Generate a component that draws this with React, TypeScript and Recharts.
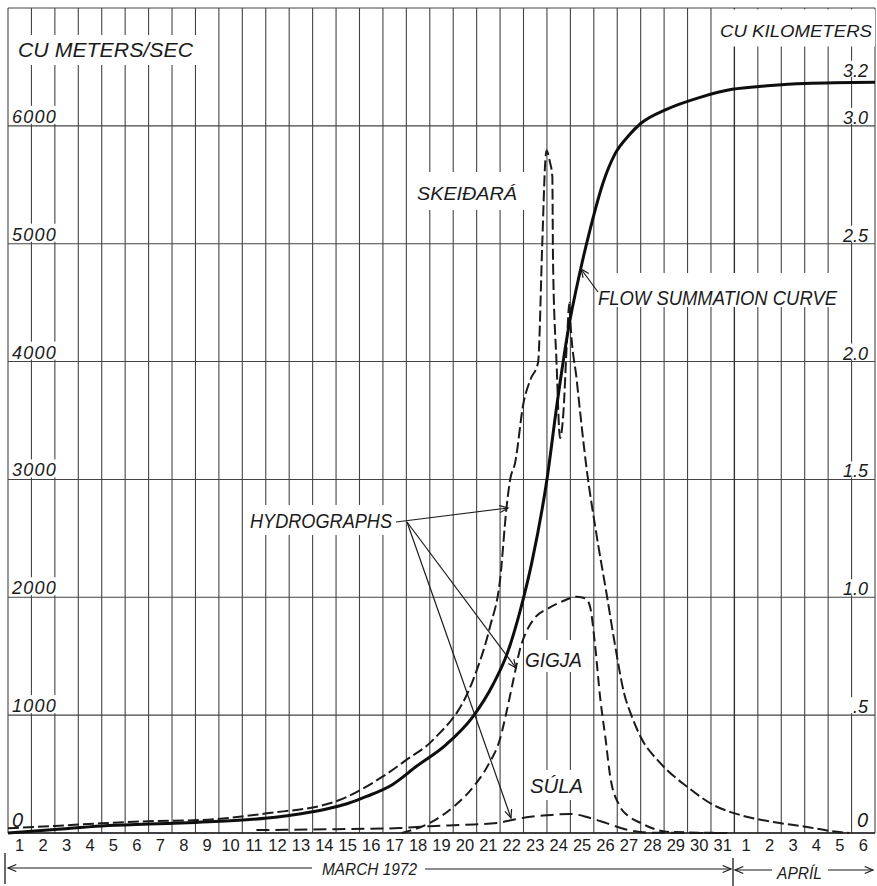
import React from 'react';
import { LineChart, Line, XAxis, YAxis, CartesianGrid, ReferenceLine } from 'recharts';

// Jokulhlaup March 1972 - hydrographs (m3/s) and flow summation (km3)
const dayLabels = [
  '1', '2', '3', '4', '5', '6', '7', '8', '9', '10', '11', '12', '13', '14', '15', '16',
  '17', '18', '19', '20', '21', '22', '23', '24', '25', '26', '27', '28', '29', '30', '31',
  '1', '2', '3', '4', '5', '6',
];
const gridDays = Array.from({ length: 38 }, (_, i) => i);
const flowTicks = [0, 1000, 2000, 3000, 4000, 5000, 6000, 7000];
const volumeTicks = [0, 0.5, 1, 1.5, 2, 2.5, 3, 3.2];

// elapsed days since start of 1 March
const sumDays = [0, 2, 4, 6, 8, 10, 11.5, 12.5, 13.5, 14.5, 15.3, 16.4, 17.46, 18.7, 19.85, 20.7, 21.3, 21.85, 22.36, 23.0, 23.43, 23.9, 24.41, 24.84, 25.4, 25.9, 26.5, 27.0, 28.1, 29.5, 30.9, 32.4, 34, 37];
const sumKm3 = [0, 0.015, 0.03, 0.038, 0.045, 0.055, 0.068, 0.082, 0.1, 0.125, 0.155, 0.205, 0.285, 0.375, 0.495, 0.63, 0.76, 0.94, 1.15, 1.5, 1.82, 2.13, 2.38, 2.56, 2.76, 2.88, 2.96, 3.01, 3.07, 3.12, 3.155, 3.17, 3.18, 3.185];

const skeidDays = [0, 2, 3.93, 6, 8.19, 11.05, 13.87, 16.0, 17.0, 18.14, 19.85, 20.57, 21.0, 21.28, 21.43, 21.64, 22.0, 22.3, 22.62, 22.8, 22.93, 22.98, 23.12, 23.23, 23.26, 23.41, 23.56, 23.7, 23.85, 23.96, 23.99, 24.27, 24.7, 25.1, 25.57, 25.9, 26.3, 26.6, 27.0, 27.83, 29.0, 30.1, 31.24, 32.65, 34.1, 35.0, 35.9];
const skeidQ = [40, 60, 82, 100, 110, 167, 260, 480, 620, 790, 1300, 1750, 2150, 2770, 3000, 3140, 3650, 3850, 3990, 5000, 5700, 5790, 5700, 5570, 4840, 3990, 3350, 3560, 4160, 4500, 4380, 3845, 3080, 2550, 2000, 1600, 1180, 1000, 815, 595, 390, 238, 153, 93, 51, 20, 0];

const gigjaDays = [16.8, 18.14, 19.0, 19.85, 20.5, 21.0, 21.3, 21.6, 21.85, 22.15, 22.5, 23.0, 23.6, 24.28, 24.65, 24.84, 25.05, 25.27, 25.5, 25.7, 26.1, 26.5, 27.0, 27.5, 28.1, 30.7];
const gigjaQ = [0, 100, 220, 390, 580, 800, 1050, 1330, 1560, 1720, 1830, 1900, 1960, 2005, 1990, 1920, 1600, 1150, 800, 480, 230, 140, 85, 40, 10, 0];

const sulaDays = [10.6, 14, 16.73, 18, 19.5, 20.87, 21.55, 22.3, 23.0, 24.0, 24.7, 25.2, 25.57, 26.12, 26.55, 27.3, 30.7];
const sulaQ = [25, 32, 42, 58, 70, 85, 112, 138, 150, 162, 136, 105, 82, 45, 22, 3, 0];

const toRows = (days: number[], vals: number[]) => days.map((t, i) => ({ t, v: vals[i] }));

const INK = '#1b1b1b';
const FONT = "'Liberation Sans', Arial, sans-serif";
const HALF_DAY = 867 / 37 / 2;

function LeftTick(props: any) {
  const { y, payload } = props;
  const v = payload.value;
  if (v === 7000) return null;
  const isZero = v === 0;
  return (
    <g>
      {!isZero && <rect x={10} y={y - 20} width={56} height={18} fill="#fff" />}
      <text x={12} y={isZero ? y - 6 : y - 3} fontSize={isZero ? 20 : 18} fontStyle="italic" fontFamily={FONT} fill={INK} letterSpacing={1.2}>
        {v}
      </text>
    </g>
  );
}

function RightTick(props: any) {
  const { y, payload } = props;
  const v = payload.value;
  const label = v === 0 ? '0' : v === 0.5 ? '.5' : v.toFixed(1);
  const isZero = v === 0;
  return (
    <g>
      {!isZero && <rect x={838} y={y - 18} width={34} height={16} fill="#fff" />}
      <text x={868} y={isZero ? y - 6 : y - 2} fontSize={isZero ? 20 : 18} fontStyle="italic" fontFamily={FONT} fill={INK} textAnchor="end">
        {label}
      </text>
    </g>
  );
}

function DayTick(props: any) {
  const { x, y, index } = props;
  const label = dayLabels[index];
  if (label === undefined) return null;
  return (
    <text x={x + HALF_DAY} y={y + 10} fontSize={16.5} fontFamily={FONT} fill={INK} textAnchor="middle">
      {label}
    </text>
  );
}

function Arrow({ x1, y1, x2, y2, w = 1.2 }: { x1: number; y1: number; x2: number; y2: number; w?: number }) {
  const a = Math.atan2(y2 - y1, x2 - x1);
  const len = 9;
  const spread = 0.4;
  const p1 = [x2 - len * Math.cos(a - spread), y2 - len * Math.sin(a - spread)];
  const p2 = [x2 - len * Math.cos(a + spread), y2 - len * Math.sin(a + spread)];
  return (
    <g stroke={INK} strokeWidth={w} fill="none">
      <line x1={x1} y1={y1} x2={x2} y2={y2} />
      <polyline points={`${p1[0]},${p1[1]} ${x2},${y2} ${p2[0]},${p2[1]}`} />
    </g>
  );
}

function Note({ x, y, w, size, text }: { x: number; y: number; w: number; size: number; text: string }) {
  return (
    <text x={x} y={y} fontSize={size} fontStyle="italic" fontFamily={FONT} fill={INK} textLength={w} lengthAdjust="spacingAndGlyphs">
      {text}
    </text>
  );
}

export default function App() {
  return (
    <div style={{ position: 'absolute', left: 0, top: 0, width: 877, height: 886, background: '#fff' }}>
      <LineChart width={877} height={886} margin={{ top: 8, right: 1, bottom: 33, left: 7 }}>
        <CartesianGrid xAxisId="grid" yAxisId="q" stroke="#444" strokeWidth={1.1} />
        <XAxis xAxisId="grid" dataKey="t" type="number" domain={[0, 37]} ticks={gridDays} interval={0} tick={(p: any) => <DayTick {...p} />} tickLine={false} axisLine={false} height={20} allowDataOverflow />
        <YAxis yAxisId="q" type="number" domain={[0, 7000]} ticks={flowTicks} interval={0} width={1} tick={(p: any) => <LeftTick {...p} />} tickLine={false} axisLine={false} />
        <YAxis yAxisId="km" orientation="right" type="number" domain={[0, 3.5]} ticks={volumeTicks} interval={0} width={1} tick={(p: any) => <RightTick {...p} />} tickLine={false} axisLine={false} />
        <ReferenceLine xAxisId="grid" yAxisId="q" y={0} stroke="#222" strokeWidth={1.6} />
        <ReferenceLine xAxisId="grid" yAxisId="q" x={31} stroke="#333" strokeWidth={1.3} />

        <Line xAxisId="grid" yAxisId="q" data={toRows(sulaDays, sulaQ)} dataKey="v" type="monotone" stroke={INK} strokeWidth={2} strokeDasharray="13 6" dot={false} isAnimationActive={false} />
        <Line xAxisId="grid" yAxisId="q" data={toRows(gigjaDays, gigjaQ)} dataKey="v" type="monotone" stroke={INK} strokeWidth={2} strokeDasharray="10 5" dot={false} isAnimationActive={false} />
        <Line xAxisId="grid" yAxisId="q" data={toRows(skeidDays, skeidQ)} dataKey="v" type="monotone" stroke={INK} strokeWidth={2} strokeDasharray="11 4" dot={false} isAnimationActive={false} />
        <Line xAxisId="grid" yAxisId="km" data={toRows(sumDays, sumKm3)} dataKey="v" type="monotone" stroke="#0e0e0e" strokeWidth={3} dot={false} isAnimationActive={false} />
      </LineChart>

      <svg width={877} height={886} style={{ position: 'absolute', left: 0, top: 0, pointerEvents: 'none' }}>
        <g fill="#fff">
          <rect x={14} y={35} width={188} height={30} />
          <rect x={714} y={9.5} width={161} height={37} />
          <rect x={408} y={172} width={120} height={38} />
          <rect x={595} y={273} width={248} height={34} />
          <rect x={244} y={505} width={158} height={30} />
          <rect x={524} y={640} width={64} height={32} />
          <rect x={527} y={770} width={62} height={30} />
        </g>
        <Note x={18} y={57} w={175} size={20} text="CU METERS/SEC" />
        <Note x={720} y={37} w={152} size={16.5} text="CU KILOMETERS" />
        <Note x={417} y={200} w={100} size={18} text="SKEIÐARÁ" />
        <Note x={598} y={305} w={239} size={21} text="FLOW SUMMATION CURVE" />
        <Note x={250} y={528} w={142} size={21} text="HYDROGRAPHS" />
        <Note x={525} y={667} w={57} size={20} text="GIGJA" />
        <Note x={530} y={793} w={53} size={20} text="SÚLA" />

        <Arrow x1={598} y1={292} x2={581} y2={269} />
        <Arrow x1={396} y1={522} x2={508} y2={508} />
        <Arrow x1={407} y1={522} x2={516} y2={668} />
        <Arrow x1={407} y1={522} x2={511} y2={818} />

        <line x1={5} y1={853} x2={5} y2={884} stroke={INK} strokeWidth={1.3} />
        <Arrow x1={312} y1={868} x2={8} y2={868} />
        <Note x={322} y={875} w={95} size={16} text="MARCH 1972" />
        <Arrow x1={425} y1={869} x2={731} y2={869} />
        <line x1={733} y1={858} x2={733} y2={886} stroke={INK} strokeWidth={1.3} />
        <Arrow x1={772} y1={870} x2={735} y2={870} />
        <Note x={777} y={879} w={45} size={16} text="APRÍL" />
        <Arrow x1={828} y1={870} x2={873} y2={870} />
      </svg>
    </div>
  );
}
